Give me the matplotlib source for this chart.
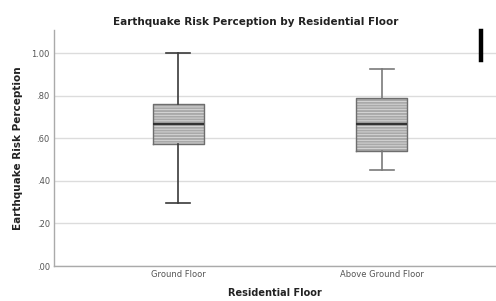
import matplotlib
matplotlib.use("Agg")
import matplotlib.pyplot as plt
from matplotlib.lines import Line2D
from matplotlib.ticker import FuncFormatter

categories = ["Ground Floor", "Above Ground Floor"]
whislo = [0.295, 0.45]
q1 = [0.576, 0.543]
med = [0.670, 0.668]
q3 = [0.762, 0.792]
whishi = [1.00, 0.925]
yticks = [0.0, 0.2, 0.4, 0.6, 0.8, 1.0]

plt.rcParams['hatch.linewidth'] = 0.5
fig = plt.figure(figsize=(4.96, 3.01), dpi=100)
ax = fig.add_axes([54/496, 35/301, 442/496, 236/301])

stats = [dict(label=c, whislo=a, q1=b, med=m, q3=d, whishi=e, fliers=[])
         for c, a, b, m, d, e in zip(categories, whislo, q1, med, q3, whishi)]
pos = [1, 2]
# hatched fill
bp = ax.bxp(stats, positions=pos, widths=0.25, patch_artist=True, showfliers=False,
            showcaps=False, boxprops=dict(facecolor='#a9a9a9', edgecolor='#e6e6e6', linewidth=0, hatch='------'),
            medianprops=dict(visible=False), whiskerprops=dict(visible=False), zorder=2)
# outlines, whiskers, caps, median
wcolors = ['#3a3a3a', '#7a7a7a']
for i in range(2):
    ax.bxp([stats[i]], positions=[pos[i]], widths=0.25, capwidths=0.117, showfliers=False,
           boxprops=dict(color='#6e6e6e', linewidth=1.0),
           whiskerprops=dict(color=wcolors[i], linewidth=1.2),
           capprops=dict(color=wcolors[i], linewidth=1.2),
           medianprops=dict(color='#333333', linewidth=1.6), zorder=3)

ax.set_xlim(0.392, 2.559)
ax.set_ylim(0, 1.11)
ax.set_yticks(yticks)
ax.yaxis.set_major_formatter(FuncFormatter(lambda v, p: f"{v:.2f}" if v >= 1 else f"{v:.2f}"[1:]))
ax.set_xticks(pos)
ax.set_xticklabels(categories)
ax.tick_params(axis='both', length=0, labelsize=6, labelcolor='#555555', pad=3)
ax.grid(axis='y', color='#dcdcdc', linewidth=1.0, zorder=0)
ax.set_axisbelow(True)
for s in ['top', 'right']:
    ax.spines[s].set_visible(False)
for s in ['left', 'bottom']:
    ax.spines[s].set_color('#aaaaaa')
    ax.spines[s].set_linewidth(1.0)

fig.text(256/496, 1 - 22/301, "Earthquake Risk Perception by Residential Floor",
         ha='center', va='center', fontsize=7.5, fontweight='bold', color='#222222')
ax.set_ylabel("Earthquake Risk Perception", fontsize=7.5, fontweight='bold', color='#222222', labelpad=6)
ax.set_xlabel("Residential Floor", fontsize=7, fontweight='bold', color='#222222', labelpad=6)

fig.add_artist(Line2D([481/496, 481/496], [1 - 31/301, 1 - 60/301], color='black', linewidth=3.2,
                      transform=fig.transFigure))

fig.savefig("out.png", dpi=100, facecolor='white')
